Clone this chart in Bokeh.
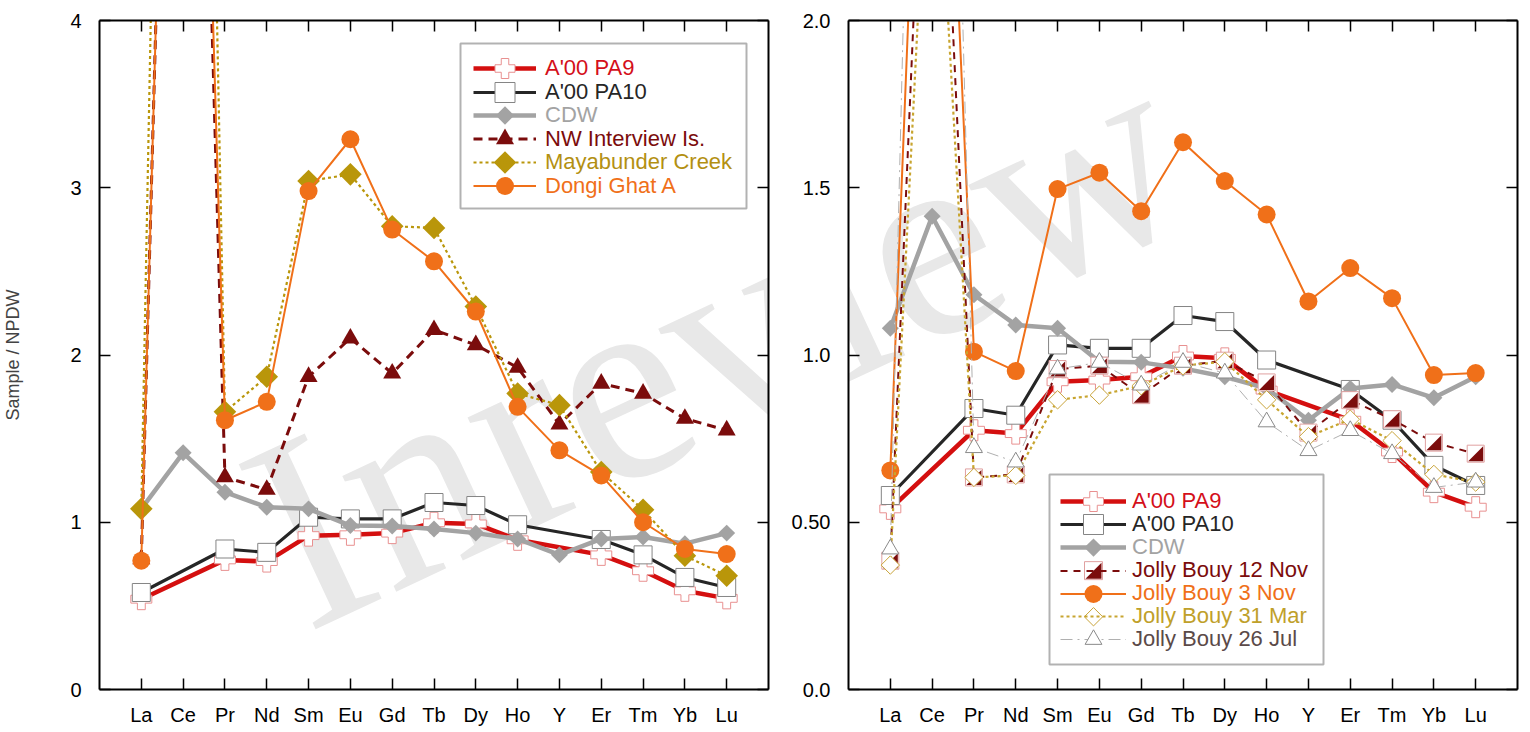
import math
from bokeh.plotting import figure
from bokeh.models import (FixedTicker, LinearAxis, Legend, LegendItem, BoxAnnotation,
                          Label, Range1d, CustomJSTickFormatter)
from bokeh.layouts import row
from bokeh.embed import file_html
from bokeh.resources import INLINE

# ---------------- data ----------------
elements = ["La", "Ce", "Pr", "Nd", "Sm", "Eu", "Gd", "Tb", "Dy", "Ho", "Y", "Er", "Tm", "Yb", "Lu"]
left_yticks = [0, 1, 2, 3, 4]
left_ytick_labels = ["0", "1", "2", "3", "4"]
right_yticks = [0, 0.5, 1.0, 1.5, 2.0]
right_ytick_labels = ["0.0", "0.50", "1.0", "1.5", "2.0"]
y_axis_title = "Sample / NPDW"

pa9 = [0.54, None, 0.775, 0.765, 0.92, 0.925, 0.935, 0.997, 0.99, 0.895, None, 0.805, 0.71, 0.59, 0.545]
pa10 = [0.58, None, 0.84, 0.82, 1.03, 1.02, 1.02, 1.118, 1.10, 0.985, None, 0.897, 0.805, 0.67, 0.61]
cdw = [1.08, 1.415, 1.18, 1.09, 1.08, 0.98, 0.978, 0.96, 0.935, 0.90, 0.805, 0.90, 0.912, 0.872, 0.935]
nw_interview = [0.78, 10.0, 1.27, 1.195, 1.87, 2.10, 1.89, 2.15, 2.06, 1.925, 1.585, 1.83, 1.77, 1.62, 1.55]
mayabunder = [1.08, 14.0, 1.66, 1.87, 3.04, 3.08, 2.77, 2.76, 2.29, 1.77, 1.70, 1.30, 1.075, 0.80, 0.68]
dongi_ghat = [0.77, 10.0, 1.61, 1.72, 2.98, 3.29, 2.75, 2.56, 2.26, 1.69, 1.43, 1.28, 1.00, 0.84, 0.81]
jb_12nov = [0.385, 3.3, 0.634, 0.643, 0.958, 0.968, 0.88, 0.968, 0.983, 0.918, 0.768, 0.865, 0.808, 0.738, 0.705]
jb_3nov = [0.655, 3.8, 1.01, 0.952, 1.496, 1.545, 1.43, 1.636, 1.52, 1.42, 1.16, 1.26, 1.17, 0.94, 0.946]
jb_31mar = [0.372, 2.85, 0.634, 0.64, 0.866, 0.88, 0.908, 0.968, 0.98, 0.866, 0.756, 0.808, 0.744, 0.643, 0.62]
jb_26jul = [0.42, 5.5, 0.723, 0.68, 0.958, 0.978, 0.91, 0.978, 0.946, 0.80, 0.714, 0.774, 0.705, 0.604, 0.62]

left_labels = ["A'00 PA9", "A'00 PA10", "CDW", "NW Interview Is.", "Mayabunder Creek", "Dongi Ghat A"]
right_labels = ["A'00 PA9", "A'00 PA10", "CDW", "Jolly Bouy 12 Nov", "Jolly Bouy 3 Nov",
                "Jolly Bouy 31 Mar", "Jolly Bouy 26 Jul"]
watermark_text = "Inreview"

# ---------------- styles ----------------
RED, RED_EDGE, RED_TXT = "#d40f0f", "#e89090", "#d40f1a"
DARK, DARK_EDGE = "#262626", "#858585"
GREY = "#a3a3a3"
MAROON = "#7b0c0c"
GOLD, GOLD_TXT = "#b9960a", "#b39012"
ORANGE = "#f07019"
GOLD2, GOLD2_EDGE, GOLD2_TXT = "#c8a530", "#c9a43a", "#bfa02a"
LGREY, LGREY_EDGE, BROWN_TXT = "#b0b0b0", "#8a8a8a", "#5b4a48"
PINK_EDGE = "#e0a0a0"
FONT = "Liberation Sans"
TICK_FS = "20px"
LEG_FS = "22px"

FW = FH = 669
TOP, BOTTOM = 20, 36
L_ML, L_MR = 98, 20
R_ML, R_MR = 58, 5
# frame positions on the page (reference geometry)
L_X0, R_X0, Y1 = 101, 848, 688
NX = 16


def px2data(px, py, x0, ymax):
    return (px - x0) * NX / FW, (Y1 - py) * ymax / FH


def style_axis(ax, size=TICK_FS):
    ax.axis_line_width = 2
    ax.axis_line_color = "black"
    ax.major_tick_in = 11
    ax.major_tick_out = 0
    ax.major_tick_line_width = 1.5
    ax.major_tick_line_color = "black"
    ax.minor_tick_line_color = None
    ax.major_label_text_font = FONT
    ax.major_label_text_font_size = size
    ax.major_label_text_color = "black"


def make_fig(ymax, ml, mr, yt, ylabels, ytitle=None):
    p = figure(frame_width=FW, frame_height=FH, x_range=Range1d(0, NX), y_range=Range1d(0, ymax),
               min_border_left=ml, min_border_right=mr, min_border_top=TOP, min_border_bottom=BOTTOM,
               output_backend="svg", toolbar_location=None, title_location=None)
    p.grid.visible = False
    p.outline_line_color = None
    xt = list(range(1, len(elements) + 1))
    xa = p.xaxis[0]
    ya = p.yaxis[0]
    xa.ticker = FixedTicker(ticks=xt)
    xa.formatter = CustomJSTickFormatter(args=dict(names=elements),
                                         code="return names[Math.round(tick) - 1] || ''")
    ya.ticker = FixedTicker(ticks=yt)
    ya.formatter = CustomJSTickFormatter(args=dict(tvals=yt, tlabs=ylabels),
                                         code="const i = tvals.findIndex(t => Math.abs(t - tick) < 1e-9); return i >= 0 ? tlabs[i] : ''")
    style_axis(xa)
    style_axis(ya)
    xa.major_label_standoff = 14
    ya.major_label_standoff = 18
    if ytitle:
        ya.axis_label = ytitle
        ya.axis_label_text_font = FONT
        ya.axis_label_text_font_size = "18px"
        ya.axis_label_text_font_style = "normal"
        ya.axis_label_standoff = 44
    blank = CustomJSTickFormatter(code="return ''")
    top = LinearAxis(ticker=FixedTicker(ticks=xt), formatter=blank)
    rgt = LinearAxis(ticker=FixedTicker(ticks=yt), formatter=blank)
    for ax in (top, rgt):
        style_axis(ax, "0px")
        ax.major_label_standoff = 0
    p.add_layout(top, "above")
    p.add_layout(rgt, "right")
    return p


def series(p, vals, color, lw, dash, marker, msize, fill, edge, angle=0.0, mlw=1.0):
    xs = [i + 1 for i, v in enumerate(vals) if v is not None]
    ys = [v for v in vals if v is not None]
    lr = p.line(xs, ys, line_color=color, line_width=lw, line_dash=dash, line_join="round")
    sr = p.scatter(xs, ys, marker=marker, size=msize, fill_color=fill, line_color=edge,
                   line_width=mlw, angle=angle)
    return lr, sr


def legend_row(p, x0, label, renderers, color, gx, cy, gw, standoff, msize):
    gh = int(round(max(msize / 0.4, 26)))
    yc = Y1 - cy
    leg = Legend(items=[LegendItem(label=label, renderers=renderers)],
                 location=(gx - x0, yc - gh / 2.0), glyph_width=gw, glyph_height=gh,
                 label_height=gh, label_standoff=standoff, padding=0, spacing=0, margin=0,
                 border_line_color=None, background_fill_alpha=0,
                 label_text_font=FONT, label_text_font_size=LEG_FS, label_text_color=color)
    p.add_layout(leg)


def watermark(p, x0, ymax):
    wx, wy = px2data(716, 338, x0, ymax)
    p.add_layout(Label(x=wx, y=wy, text=watermark_text, angle=25, angle_units="deg",
                       text_align="center", text_baseline="middle", text_font="Liberation Serif",
                       text_font_size="278px", text_color="#e8e8e8", level="underlay"))


DIAM = math.pi / 4

# ---------------- left panel ----------------
pl = make_fig(4, L_ML, L_MR, left_yticks, left_ytick_labels, y_axis_title)
watermark(pl, L_X0, 4)
l1 = series(pl, pa9, RED, 4.5, "solid", "plus", 21, "white", RED_EDGE)
l2 = series(pl, pa10, DARK, 3.2, "solid", "square", 18, "white", DARK_EDGE)
l3 = series(pl, cdw, GREY, 4.5, "solid", "square", 12, GREY, None, DIAM)
l4 = series(pl, nw_interview, MAROON, 3, "9 6", "triangle", 18, MAROON, None)
l5 = series(pl, mayabunder, GOLD, 2.2, "3 3", "square", 16, GOLD, None, DIAM)
l6 = series(pl, dongi_ghat, ORANGE, 2, "solid", "circle", 18, ORANGE, None)

bx0, by0 = px2data(462, 42, L_X0, 4)
bx1, by1 = px2data(748, 207, L_X0, 4)
pl.add_layout(BoxAnnotation(left=bx0, right=bx1, top=by0, bottom=by1, fill_color="white",
                            fill_alpha=1, line_color="black", line_width=2))
LGX, LGW, LSTD = 475, 63, 9
lrows = [67 + 23.5 * i for i in range(6)]
lcolors = [RED_TXT, DARK, GREY, MAROON, GOLD_TXT, ORANGE]
lrends = [[l1[0], l1[1]], [l2[0], l2[1]], [l3[0]], [l4[0], l4[1]], [l5[0]], [l6[0], l6[1]]]
lsizes = [20, 20, 20, 18, 20, 18]
for lab, rr, col, cy, ms in zip(left_labels, lrends, lcolors, lrows, lsizes):
    legend_row(pl, L_X0, lab, rr, col, LGX, cy, LGW, LSTD, ms)
kx, ky = px2data(LGX + LGW / 2.0, lrows[2], L_X0, 4)
pl.scatter([kx], [ky], marker="square", angle=DIAM, size=13, fill_color=GREY, line_color=None, level="overlay")
kx, ky = px2data(LGX + LGW / 2.0, lrows[4], L_X0, 4)
pl.scatter([kx], [ky], marker="square", angle=DIAM, size=16, fill_color=GOLD, line_color=None, level="overlay")

# ---------------- right panel ----------------
pr = make_fig(2, R_ML, R_MR, right_yticks, right_ytick_labels)
watermark(pr, R_X0, 2)
r1 = series(pr, pa9, RED, 4.5, "solid", "plus", 21, "white", RED_EDGE)
r2 = series(pr, pa10, DARK, 3.2, "solid", "square", 18, "white", DARK_EDGE)
r3 = series(pr, cdw, GREY, 4.5, "solid", "square", 12, GREY, None, DIAM)
r4 = series(pr, jb_12nov, MAROON, 2, "7 6", "square", 17, "white", PINK_EDGE)
sxu, syu = FW / NX, FH / 2.0
h = 7.5
tx, ty = [], []
for i, v in enumerate(jb_12nov):
    if v is None:
        continue
    x = i + 1
    tx.append([x + h / sxu, x + h / sxu, x - h / sxu])
    ty.append([v + h / syu, v - h / syu, v - h / syu])
pr.patches(tx, ty, fill_color=MAROON, line_color=None)
r5 = series(pr, jb_3nov, ORANGE, 2, "solid", "circle", 18, ORANGE, None)
r6 = series(pr, jb_31mar, GOLD2, 2.2, "3 3", "square", 13, "white", GOLD2_EDGE, DIAM)
r7 = series(pr, jb_26jul, LGREY, 1, "12 5 2 5", "triangle", 17, "white", LGREY_EDGE)

bx0, by0 = px2data(1049, 473, R_X0, 2)
bx1, by1 = px2data(1323, 663, R_X0, 2)
pr.add_layout(BoxAnnotation(left=bx0, right=bx1, top=by0, bottom=by1, fill_color="white",
                            fill_alpha=1, line_color="black", line_width=2))
RGX, RGW, RSTD = 1060, 66, 6
rrows = [500 + 23.05 * i for i in range(7)]
rcolors = [RED_TXT, DARK, GREY, MAROON, ORANGE, GOLD2_TXT, BROWN_TXT]
rrends = [[r1[0], r1[1]], [r2[0], r2[1]], [r3[0]], [r4[0]], [r5[0], r5[1]], [r6[0]], [r7[0], r7[1]]]
rsizes = [20, 20, 20, 18, 18, 20, 17]
for lab, rr, col, cy, ms in zip(right_labels, rrends, rcolors, rrows, rsizes):
    legend_row(pr, R_X0, lab, rr, col, RGX, cy, RGW, RSTD, ms)
kx, ky = px2data(RGX + RGW / 2.0, rrows[2], R_X0, 2)
pr.scatter([kx], [ky], marker="square", angle=DIAM, size=13, fill_color=GREY, line_color=None, level="overlay")
kx, ky = px2data(RGX + RGW / 2.0, rrows[5], R_X0, 2)
pr.scatter([kx], [ky], marker="square", angle=DIAM, size=13, fill_color="white", line_color=GOLD2_EDGE,
           level="overlay")
# half-filled square key for Jolly Bouy 12 Nov
kx, ky = px2data(RGX + RGW / 2.0, rrows[3], R_X0, 2)
pr.scatter([kx], [ky], marker="square", size=18, fill_color="white", line_color=PINK_EDGE, level="overlay")
hk = 8.0
pr.patches([[kx + hk / sxu, kx + hk / sxu, kx - hk / sxu]], [[ky + hk / syu, ky - hk / syu, ky - hk / syu]],
           fill_color=MAROON, line_color=None, level="overlay")

layout = row(pl, pr)
open("out.html", "w").write(file_html(layout, INLINE))
